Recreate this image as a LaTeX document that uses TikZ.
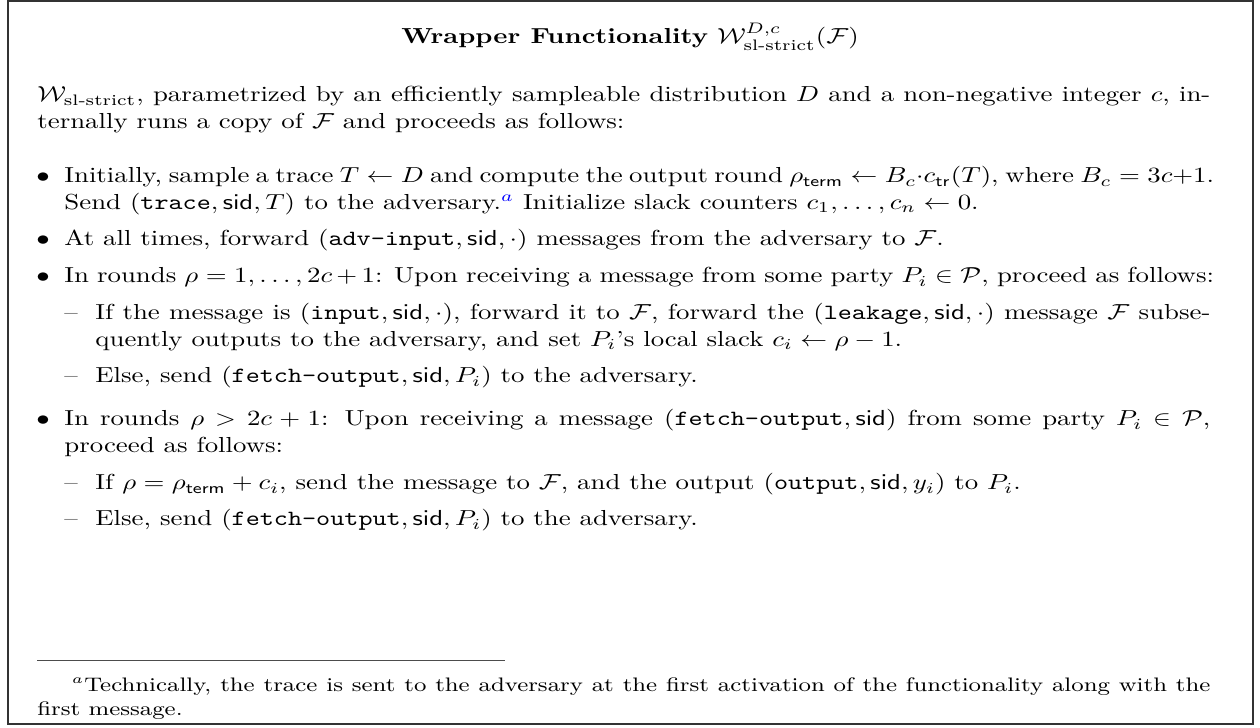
\documentclass[tikz,border=0pt]{standalone}
\usepackage{amsmath,amssymb}
\usepackage{graphicx}
% horizontally stretched text block, first baseline = node baseline
\newcommand{\sxblock}[2]{\scalebox{1.235}[1]{\begin{minipage}[t]{#1}#2\end{minipage}}}
\newcommand{\sxbox}[1]{\scalebox{1.235}[1]{#1}}
\newcommand{\slstrict}{\textnormal{sl-strict}}
\newcommand{\msg}[1]{\texttt{#1}}
\tikzset{
  framebox/.style={draw=black!80, line width=0.8pt},
  txt/.style={inner sep=0pt, anchor=base west},
  lbl/.style={inner sep=0pt, anchor=base},
  fnrule/.style={draw=black!70, line width=0.45pt},
}
\begin{document}
\begin{tikzpicture}[x=0.4603pt, y=-0.4603pt]
\useasboundingbox (0,0) rectangle (1260,728);
\draw[framebox] (8,1) rectangle (1253,724);
\node[lbl] (title) at (630,44) {\sxbox{\textbf{Wrapper Functionality} $\mathcal{W}^{D,c}_{\slstrict}(\mathcal{F})$}};
% intro paragraph
\node[txt] (para) at (37,102) {\sxblock{437.2pt}{$\mathcal{W}_{\slstrict}$, parametrized by an efficiently sampleable distribution $D$ and a non-negative integer $c$, in-\linebreak ternally runs a copy of $\mathcal{F}$ and proceeds as follows:}};
% item 1
\node[lbl] (b1) at (43,183) {\sxbox{$\bullet$}};
\node[txt] (i1) at (64,183) {\sxblock{428.5pt}{Initially, sample a trace $T \leftarrow D$ and compute the output round $\rho_{\mathsf{term}} \leftarrow B_c{\cdot}c_{\mathsf{tr}}(T)$, where ${B_c = 3c{+}1}$.\linebreak Send $(\msg{trace}, \mathsf{sid}, T)$ to the adversary.$^{\color{blue}a}$ Initialize slack counters $c_1,\ldots,c_n \leftarrow 0$.}};
% item 2
\node[lbl] (b2) at (43,246) {\sxbox{$\bullet$}};
\node[txt] (i2) at (64,246) {\sxblock{428.5pt}{At all times, forward $(\msg{adv-input}, \mathsf{sid}, \cdot)$ messages from the adversary to $\mathcal{F}$.}};
% item 3
\node[lbl] (b3) at (43,283) {\sxbox{$\bullet$}};
\node[txt] (i3) at (64,283) {\sxblock{428.5pt}{In rounds $\rho = 1,\ldots,2c+1$: Upon receiving a message from some party $P_i \in \mathcal{P}$, proceed as follows:}};
\node[lbl] (d31) at (71,320) {\sxbox{--}};
\node[txt] (s31) at (95,320) {\sxblock{415.6pt}{If the message is $(\msg{input}, \mathsf{sid}, \cdot)$, forward it to $\mathcal{F}$, forward the $(\msg{leakage}, \mathsf{sid}, \cdot)$ message $\mathcal{F}$ subse-\linebreak quently outputs to the adversary, and set $P_i$'s local slack $c_i \leftarrow \rho - 1$.}};
\node[lbl] (d32) at (71,383) {\sxbox{--}};
\node[txt] (s32) at (95,383) {\sxblock{415.6pt}{Else, send $(\msg{fetch-output}, \mathsf{sid}, P_i)$ to the adversary.}};
% item 4
\node[lbl] (b4) at (43,426) {\sxbox{$\bullet$}};
\node[txt] (i4) at (64,426) {\sxblock{427.1pt}{In rounds $\rho > 2c+1$: Upon receiving a message $(\msg{fetch-output}, \mathsf{sid})$ from some party $P_i \in \mathcal{P}$,\linebreak proceed as follows:}};
\node[lbl] (d41) at (71,490) {\sxbox{--}};
\node[txt] (s41) at (95,490) {\sxblock{415.6pt}{If $\rho = \rho_{\mathsf{term}} + c_i$, send the message to $\mathcal{F}$, and the output $(\msg{output}, \mathsf{sid}, y_i)$ to $P_i$.}};
\node[lbl] (d42) at (71,526) {\sxbox{--}};
\node[txt] (s42) at (95,526) {\sxblock{415.6pt}{Else, send $(\msg{fetch-output}, \mathsf{sid}, P_i)$ to the adversary.}};
% footnote
\coordinate (rulestart) at (37,660);
\coordinate (ruleend) at (505,660);
\draw[fnrule] (rulestart) -- (ruleend);
\node[txt] (footnote) at (37,692) {\sxblock{437.2pt}{\small\noindent\hbox to 17.5pt{\hss$^{a}$}Technically, the trace is sent to the adversary at the first activation of the functionality along with the\linebreak first message.}};
\end{tikzpicture}
\end{document}
